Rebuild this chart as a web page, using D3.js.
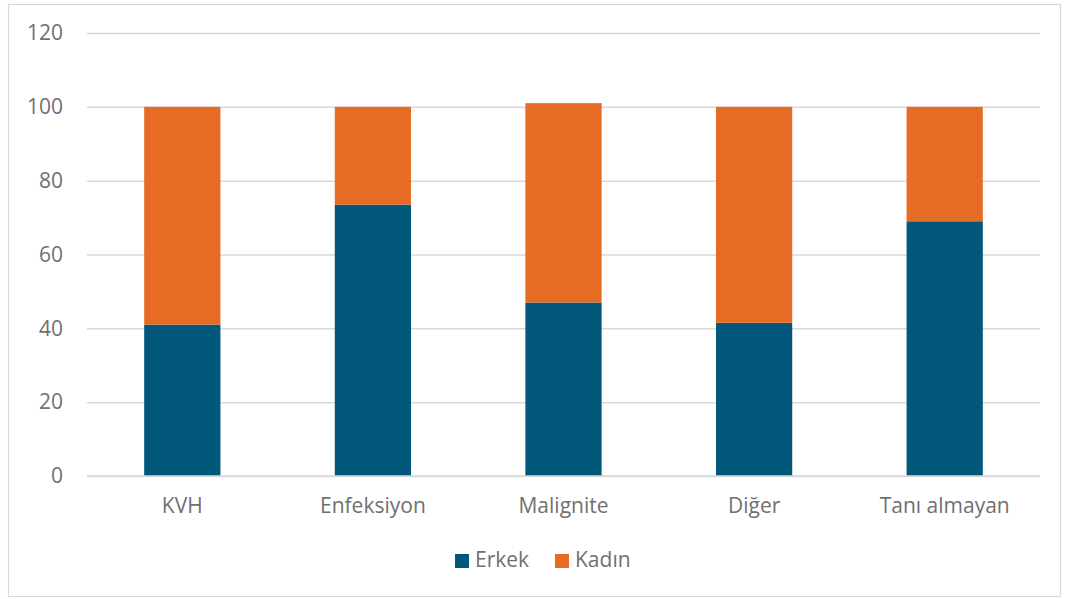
<!DOCTYPE html>
<html><head><meta charset="utf-8">
<script src="https://cdn.jsdelivr.net/npm/d3@7"></script>
<style>body{margin:0;background:#fff}svg{display:block}</style>
</head><body>
<script>
const categories = ["KVH", "Enfeksiyon", "Malignite", "Diğer", "Tanı almayan"];
const erkek = [41, 73.5, 47, 41.5, 69];
const kadin = [59, 26.5, 54, 58.5, 31];
const seriesNames = ["Erkek", "Kadın"];
const seriesColors = ["#01587B", "#E66C25"];
const yTicks = [0, 20, 40, 60, 80, 100, 120];

const W = 1065, H = 599;
const m = {left: 87, right: 25, top: 33, bottom: 123};
const svg = d3.select("body").append("svg").attr("width", W).attr("height", H);
const font = "'Open Sans', sans-serif";
const textColor = "#707070";
const fs = 21;

svg.append("rect").attr("x", 8.5).attr("y", 4.5).attr("width", W - 13).attr("height", H - 7)
  .attr("fill", "#fff").attr("stroke", "#d9d9d9").attr("stroke-width", 1.2);

const x = d3.scaleBand().domain(categories).range([m.left, W - m.right]).paddingInner(0.6).paddingOuter(0.3);
const y = d3.scaleLinear().domain([0, 120]).range([476, 33]);

const yAxis = svg.append("g").attr("transform", `translate(${m.left},0)`)
  .call(d3.axisLeft(y).tickValues(yTicks).tickSize(-(W - m.right - m.left)).tickPadding(24));
yAxis.select(".domain").remove();
yAxis.selectAll(".tick line").attr("stroke", "#d9d9d9").attr("stroke-width", 1.5);
yAxis.selectAll(".tick text").attr("fill", textColor).attr("font-family", font).attr("font-size", fs);

const rows = categories.map((c, i) => ({cat: c, Erkek: erkek[i], "Kadın": kadin[i]}));
const stack = d3.stack().keys(seriesNames)(rows);
svg.append("g").selectAll("g").data(stack).join("g")
  .attr("fill", (d, i) => seriesColors[i])
  .selectAll("rect").data(d => d).join("rect")
  .attr("x", d => x(d.data.cat)).attr("width", x.bandwidth())
  .attr("y", d => y(d[1])).attr("height", d => y(d[0]) - y(d[1]));

const xAxis = svg.append("g").attr("transform", `translate(0,476)`)
  .call(d3.axisBottom(x).tickSize(0).tickPadding(22));
xAxis.select(".domain").attr("stroke", "#d9d9d9").attr("stroke-width", 1.5)
  .attr("d", `M${m.left},0H${W - m.right}`);
xAxis.selectAll(".tick text").attr("fill", textColor).attr("font-family", font).attr("font-size", fs);

const legendX = [455, 555];
const lg = svg.append("g").selectAll("g").data(seriesNames).join("g")
  .attr("transform", (d, i) => `translate(${legendX[i]},554)`);
lg.append("rect").attr("width", 14).attr("height", 14).attr("fill", (d, i) => seriesColors[i]);
lg.append("text").attr("x", 20).attr("y", 13).text(d => d)
  .attr("fill", textColor).attr("font-family", font).attr("font-size", fs);
</script>
</body></html>
